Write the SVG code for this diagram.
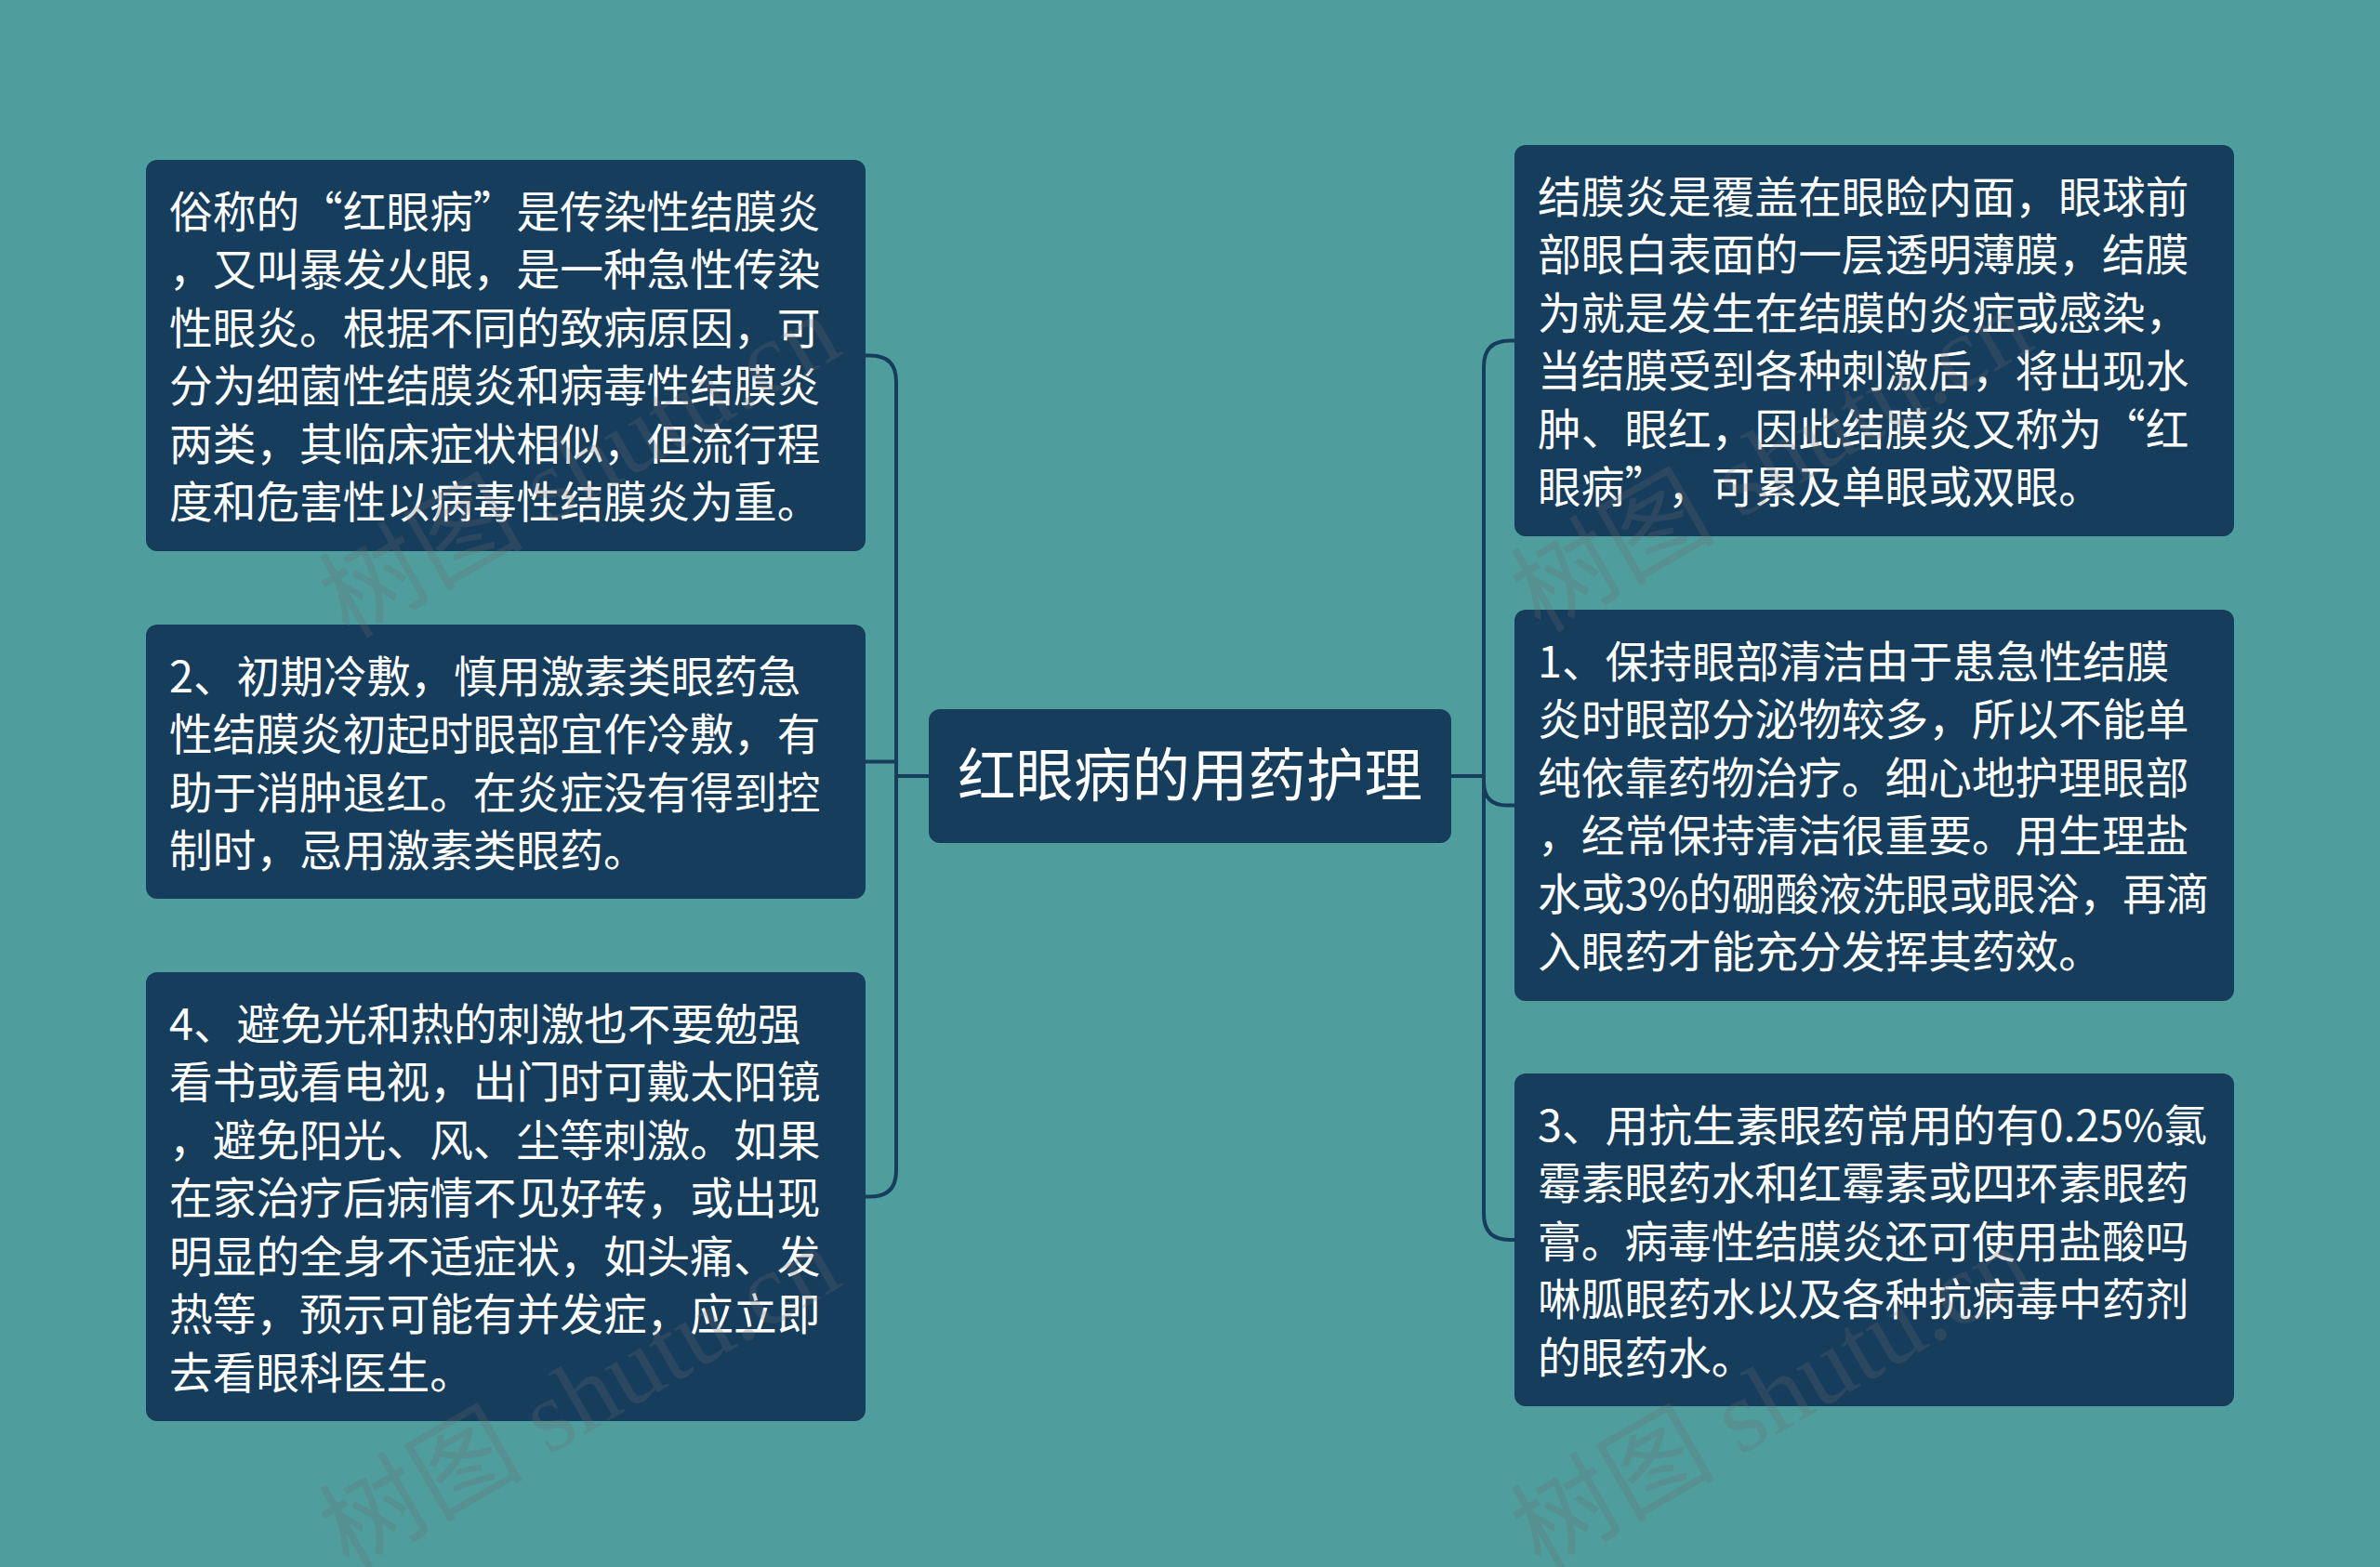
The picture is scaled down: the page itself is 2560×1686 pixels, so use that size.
<svg xmlns="http://www.w3.org/2000/svg" width="2560" height="1686" viewBox="0 0 2560 1686">
<style>
.bg{fill:#4f9d9d}
.box{fill:#173d5d}
.t{font-family:"Noto Sans CJK SC","Noto Sans",sans-serif;font-size:46.7px;fill:#ffffff;text-spacing-trim:space-all}
.ct{font-family:"Noto Sans CJK SC","Noto Sans",sans-serif;font-size:62.5px;fill:#ffffff;text-anchor:middle}
.c{fill:none;stroke:#173d5d;stroke-width:4;stroke-linejoin:round}
.wm{font-family:"Liberation Serif","Noto Sans CJK SC",serif;font-size:110px;fill:#6a6a6a;fill-opacity:0.25}
</style>
<rect class="bg" x="0" y="0" width="2560" height="1686"/>
<g id="connectors">
<path class="c" d="M999 835 H964 V410.5 Q964 382.5 936 382.5 H931"/>
<path class="c" d="M999 835 H964 V819.5 H931"/>
<path class="c" d="M999 835 H964 V1259.5 Q964 1287.5 936 1287.5 H931"/>
<path class="c" d="M1561 835 H1596 V394.5 Q1596 366.5 1624 366.5 H1629"/>
<path class="c" d="M1561 835 H1596 V841.5 Q1596 866.5 1621 866.5 H1629"/>
<path class="c" d="M1561 835 H1596 V1306 Q1596 1334 1624 1334 H1629"/>
</g>
<g id="center">
<rect class="box" x="999" y="763" width="562" height="144" rx="12"/>
<text class="ct" x="1280" y="857">红眼病的用药护理</text>
</g>
<g id="L1">
<rect class="box" x="157" y="172" width="774" height="421" rx="12"/>
<text class="t">
<tspan x="182" y="244.7">俗称的“红眼病”是传染性结膜炎</tspan>
<tspan x="182" y="307.2">，又叫暴发火眼，是一种急性传染</tspan>
<tspan x="182" y="369.7">性眼炎。根据不同的致病原因，可</tspan>
<tspan x="182" y="432.2">分为细菌性结膜炎和病毒性结膜炎</tspan>
<tspan x="182" y="494.7">两类，其临床症状相似，但流行程</tspan>
<tspan x="182" y="557.2">度和危害性以病毒性结膜炎为重。</tspan>
</text>
</g>
<g id="L2">
<rect class="box" x="157" y="672" width="774" height="295" rx="12"/>
<text class="t">
<tspan x="182" y="744.7">2、初期冷敷，慎用激素类眼药急</tspan>
<tspan x="182" y="807.2">性结膜炎初起时眼部宜作冷敷，有</tspan>
<tspan x="182" y="869.7">助于消肿退红。在炎症没有得到控</tspan>
<tspan x="182" y="932.2">制时，忌用激素类眼药。</tspan>
</text>
</g>
<g id="L3">
<rect class="box" x="157" y="1046" width="774" height="483" rx="12"/>
<text class="t">
<tspan x="182" y="1118.7">4、避免光和热的刺激也不要勉强</tspan>
<tspan x="182" y="1181.2">看书或看电视，出门时可戴太阳镜</tspan>
<tspan x="182" y="1243.7">，避免阳光、风、尘等刺激。如果</tspan>
<tspan x="182" y="1306.2">在家治疗后病情不见好转，或出现</tspan>
<tspan x="182" y="1368.7">明显的全身不适症状，如头痛、发</tspan>
<tspan x="182" y="1431.2">热等，预示可能有并发症，应立即</tspan>
<tspan x="182" y="1493.7">去看眼科医生。</tspan>
</text>
</g>
<g id="R1">
<rect class="box" x="1629" y="156" width="774" height="421" rx="12"/>
<text class="t">
<tspan x="1654" y="228.7">结膜炎是覆盖在眼睑内面，眼球前</tspan>
<tspan x="1654" y="291.2">部眼白表面的一层透明薄膜，结膜</tspan>
<tspan x="1654" y="353.7">为就是发生在结膜的炎症或感染，</tspan>
<tspan x="1654" y="416.2">当结膜受到各种刺激后，将出现水</tspan>
<tspan x="1654" y="478.7">肿、眼红，因此结膜炎又称为“红</tspan>
<tspan x="1654" y="541.2">眼病”</tspan><tspan x="1794" y="541.2">，可累及单眼或双眼。</tspan>
</text>
</g>
<g id="R2">
<rect class="box" x="1629" y="656" width="774" height="421" rx="12"/>
<text class="t">
<tspan x="1654" y="728.7">1、保持眼部清洁由于患急性结膜</tspan>
<tspan x="1654" y="791.2">炎时眼部分泌物较多，所以不能单</tspan>
<tspan x="1654" y="853.7">纯依靠药物治疗。细心地护理眼部</tspan>
<tspan x="1654" y="916.2">，经常保持清洁很重要。用生理盐</tspan>
<tspan x="1654" y="978.7">水或3%的硼酸液洗眼或眼浴，再滴</tspan>
<tspan x="1654" y="1041.2">入眼药才能充分发挥其药效。</tspan>
</text>
</g>
<g id="R3">
<rect class="box" x="1629" y="1155" width="774" height="358" rx="12"/>
<text class="t">
<tspan x="1654" y="1227.7">3、用抗生素眼药常用的有0.25%氯</tspan>
<tspan x="1654" y="1290.2">霉素眼药水和红霉素或四环素眼药</tspan>
<tspan x="1654" y="1352.7">膏。病毒性结膜炎还可使用盐酸吗</tspan>
<tspan x="1654" y="1415.2">啉胍眼药水以及各种抗病毒中药剂</tspan>
<tspan x="1654" y="1477.7">的眼药水。</tspan>
</text>
</g>
<g id="watermark">
<text class="wm" transform="translate(375 688) rotate(-30)">树图 shutu.cn</text>
<text class="wm" transform="translate(375 1690) rotate(-30)">树图 shutu.cn</text>
<text class="wm" transform="translate(1657 682) rotate(-30)">树图 shutu.cn</text>
<text class="wm" transform="translate(1657 1690) rotate(-30)">树图 shutu.cn</text>
</g>
</svg>
